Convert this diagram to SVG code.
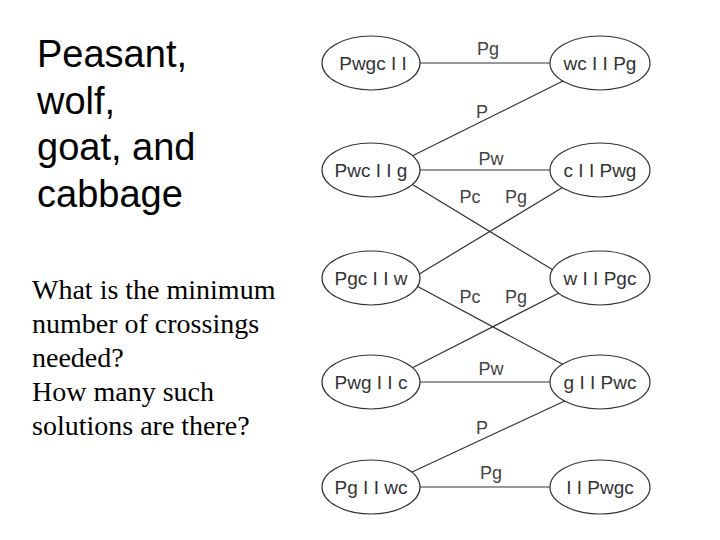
<svg xmlns="http://www.w3.org/2000/svg" width="720" height="540" viewBox="0 0 720 540">
<style>
.title{font-family:"Liberation Sans",Arial,sans-serif;font-size:38px;fill:#000}
.q{font-family:"Liberation Serif","Times New Roman",serif;font-size:28px;fill:#000}
.node ellipse{fill:#fff;stroke:#333;stroke-width:1.2}
.node text{font-family:"Liberation Sans",Arial,sans-serif;font-size:19px;fill:#333;text-anchor:middle}
#edges line{stroke:#333;stroke-width:1.2}
#edges text{font-family:"Liberation Sans",Arial,sans-serif;font-size:18px;fill:#444;text-anchor:middle}
</style>
<rect width="720" height="540" fill="#fff"/>
<g id="title">
<text class="title" x="37" y="67">Peasant,</text>
<text class="title" x="37" y="114">wolf,</text>
<text class="title" x="37" y="160">goat, and</text>
<text class="title" x="37" y="207">cabbage</text>
</g>
<g id="question">
<text class="q" x="32" y="299">What is the minimum</text>
<text class="q" x="32" y="333">number of crossings</text>
<text class="q" x="32" y="367">needed?</text>
<text class="q" x="32" y="401">How many such</text>
<text class="q" x="32" y="435">solutions are there?</text>
</g>
<g id="edges">
<line x1="415" y1="63" x2="555" y2="63"/>
<text x="488" y="55">Pg</text>
<line x1="565" y1="80" x2="410" y2="157"/>
<text x="482" y="118">P</text>
<line x1="415" y1="170" x2="555" y2="170"/>
<text x="491" y="165">Pw</text>
<line x1="410" y1="183" x2="558" y2="273"/>
<line x1="565" y1="186" x2="416" y2="276"/>
<text x="470" y="203">Pc</text>
<text x="516" y="203">Pg</text>
<line x1="413" y1="284" x2="566" y2="366"/>
<line x1="563" y1="291" x2="410" y2="369"/>
<text x="470" y="303">Pc</text>
<text x="516" y="303">Pg</text>
<line x1="415" y1="382" x2="555" y2="382"/>
<text x="491" y="375">Pw</text>
<line x1="569" y1="399" x2="410" y2="473"/>
<text x="482" y="434">P</text>
<line x1="415" y1="487" x2="555" y2="487"/>
<text x="491" y="479">Pg</text>
</g>
<g id="n-Pwgc" class="node"><ellipse cx="371" cy="63" rx="49" ry="27"/><text x="373" y="70">Pwgc I I</text></g>
<g id="n-wc" class="node"><ellipse cx="600" cy="63" rx="50" ry="27"/><text x="600" y="70">wc I I Pg</text></g>
<g id="n-Pwc" class="node"><ellipse cx="371" cy="170" rx="49" ry="27"/><text x="371" y="177">Pwc I I g</text></g>
<g id="n-c" class="node"><ellipse cx="600" cy="170" rx="50" ry="27"/><text x="600" y="177">c I I Pwg</text></g>
<g id="n-Pgc" class="node"><ellipse cx="371" cy="278" rx="49" ry="27"/><text x="371" y="285">Pgc I I w</text></g>
<g id="n-w" class="node"><ellipse cx="600" cy="278" rx="50" ry="27"/><text x="600" y="285">w I I Pgc</text></g>
<g id="n-Pwg" class="node"><ellipse cx="371" cy="382" rx="49" ry="27"/><text x="371" y="389">Pwg I I c</text></g>
<g id="n-g" class="node"><ellipse cx="600" cy="382" rx="50" ry="27"/><text x="600" y="389">g I I Pwc</text></g>
<g id="n-Pg" class="node"><ellipse cx="371" cy="487" rx="49" ry="27"/><text x="371" y="494">Pg I I wc</text></g>
<g id="n-empty" class="node"><ellipse cx="600" cy="487" rx="50" ry="27"/><text x="600" y="494">I I Pwgc</text></g>
</svg>
